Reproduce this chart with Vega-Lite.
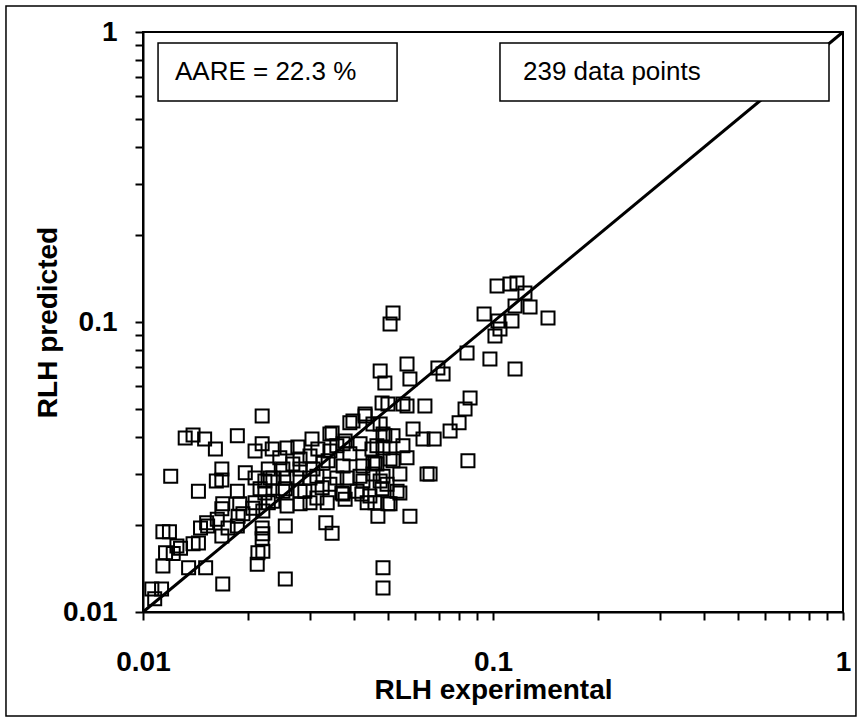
{
  "$schema": "https://vega.github.io/schema/vega-lite/v6.json",
  "width": 700,
  "height": 580,
  "autosize": {"type": "none"},
  "padding": {"left": 143, "top": 32, "right": 19, "bottom": 105},
  "background": "white",
  "config": {
    "view": {"stroke": "black", "strokeWidth": 2},
    "font": "Liberation Sans",
    "axis": {
      "grid": false,
      "domainColor": "black",
      "domainWidth": 2,
      "tickColor": "black",
      "tickWidth": 2,
      "tickSize": 8,
      "labelFont": "Liberation Sans",
      "labelFontWeight": "bold",
      "labelFontSize": 28,
      "labelColor": "black",
      "labelOverlap": false,
      "labelFlush": false,
      "titleFont": "Liberation Sans",
      "titleFontWeight": "bold",
      "titleFontSize": 28,
      "titleColor": "black"
    }
  },
  "layer": [
    {
      "data": {"values": [{"x1": 0.00406, "x2": 1.089, "y1": 1.229, "y2": 0.00438}]},
      "mark": {"type": "rect", "fill": null, "stroke": "black", "strokeWidth": 1.5, "clip": false},
      "encoding": {
        "x": {"field": "x1", "type": "quantitative", "scale": {"type": "log", "domain": [0.01, 1], "nice": false}},
        "x2": {"field": "x2"},
        "y": {"field": "y1", "type": "quantitative", "scale": {"type": "log", "domain": [0.01, 1], "nice": false}},
        "y2": {"field": "y2"}
      }
    },
    {
      "data": {"values": [
        {"exp":0.1027,"pred":0.1331},{"exp":0.1118,"pred":0.1352},{"exp":0.1171,"pred":0.1363},{"exp":0.1234,"pred":0.1259},
        {"exp":0.1156,"pred":0.1136},{"exp":0.1276,"pred":0.1127},{"exp":0.0943,"pred":0.1066},{"exp":0.1436,"pred":0.1032},
        {"exp":0.1033,"pred":0.1008},{"exp":0.1133,"pred":0.1008},{"exp":0.1047,"pred":0.0946},{"exp":0.1013,"pred":0.0895},
        {"exp":0.0843,"pred":0.0782},{"exp":0.0980,"pred":0.0746},{"exp":0.0696,"pred":0.0694},{"exp":0.1156,"pred":0.0689},
        {"exp":0.0720,"pred":0.0662},{"exp":0.0518,"pred":0.1074},{"exp":0.0508,"pred":0.0984},{"exp":0.0476,"pred":0.0678},
        {"exp":0.0568,"pred":0.0717},{"exp":0.0491,"pred":0.0616},{"exp":0.0579,"pred":0.0636},{"exp":0.0860,"pred":0.0547},
        {"exp":0.0832,"pred":0.0501},{"exp":0.0800,"pred":0.0449},{"exp":0.0754,"pred":0.0421},{"exp":0.0679,"pred":0.0395},
        {"exp":0.0639,"pred":0.0513},{"exp":0.0591,"pred":0.0428},{"exp":0.0568,"pred":0.0513},{"exp":0.0501,"pred":0.0521},
        {"exp":0.0518,"pred":0.0405},{"exp":0.0485,"pred":0.0368},{"exp":0.0568,"pred":0.0340},{"exp":0.0508,"pred":0.0337},
        {"exp":0.0542,"pred":0.0299},{"exp":0.0661,"pred":0.0299},{"exp":0.0848,"pred":0.0332},{"exp":0.0542,"pred":0.0257},
        {"exp":0.0501,"pred":0.0236},{"exp":0.0454,"pred":0.0445},{"exp":0.0466,"pred":0.0324},{"exp":0.0476,"pred":0.0283},
        {"exp":0.0398,"pred":0.0456},{"exp":0.0431,"pred":0.0474},{"exp":0.0342,"pred":0.0411},{"exp":0.0304,"pred":0.0395},
        {"exp":0.0373,"pred":0.0380},{"exp":0.0491,"pred":0.0405},{"exp":0.0219,"pred":0.0474},{"exp":0.0132,"pred":0.0398},
        {"exp":0.0139,"pred":0.0408},{"exp":0.0150,"pred":0.0395},{"exp":0.0161,"pred":0.0365},{"exp":0.0186,"pred":0.0405},
        {"exp":0.0209,"pred":0.0359},{"exp":0.0219,"pred":0.0380},{"exp":0.0120,"pred":0.0294},{"exp":0.0144,"pred":0.0261},
        {"exp":0.0168,"pred":0.0311},{"exp":0.0168,"pred":0.0285},{"exp":0.0162,"pred":0.0283},{"exp":0.0186,"pred":0.0261},
        {"exp":0.0169,"pred":0.0236},{"exp":0.0196,"pred":0.0302},{"exp":0.0209,"pred":0.0290},{"exp":0.0246,"pred":0.0340},
        {"exp":0.0281,"pred":0.0337},{"exp":0.0277,"pred":0.0371},{"exp":0.0390,"pred":0.0449},{"exp":0.0482,"pred":0.0526},
        {"exp":0.0631,"pred":0.0395},{"exp":0.0390,"pred":0.0351},{"exp":0.0425,"pred":0.0319},{"exp":0.0454,"pred":0.0326},
        {"exp":0.0518,"pred":0.0332},{"exp":0.0498,"pred":0.0276},{"exp":0.0532,"pred":0.0261},{"exp":0.0469,"pred":0.0214},
        {"exp":0.0579,"pred":0.0214},{"exp":0.0648,"pred":0.0299},{"exp":0.0333,"pred":0.0203},{"exp":0.0347,"pred":0.0187},
        {"exp":0.0255,"pred":0.0198},{"exp":0.0220,"pred":0.0223},{"exp":0.0216,"pred":0.0266},{"exp":0.0235,"pred":0.0290},
        {"exp":0.0258,"pred":0.0290},{"exp":0.0275,"pred":0.0290},{"exp":0.0314,"pred":0.0294},{"exp":0.0358,"pred":0.0290},
        {"exp":0.0251,"pred":0.0261},{"exp":0.0281,"pred":0.0261},{"exp":0.0300,"pred":0.0238},{"exp":0.0258,"pred":0.0232},
        {"exp":0.0235,"pred":0.0241},{"exp":0.0206,"pred":0.0228},{"exp":0.0219,"pred":0.0195},{"exp":0.0219,"pred":0.0179},
        {"exp":0.0213,"pred":0.0160},{"exp":0.0212,"pred":0.0146},{"exp":0.0255,"pred":0.0130},{"exp":0.0169,"pred":0.0125},
        {"exp":0.0485,"pred":0.0142},{"exp":0.0485,"pred":0.0121},{"exp":0.0114,"pred":0.0189},{"exp":0.0119,"pred":0.0189},
        {"exp":0.0125,"pred":0.0169},{"exp":0.0116,"pred":0.0160},{"exp":0.0114,"pred":0.0144},{"exp":0.0135,"pred":0.0142},
        {"exp":0.0151,"pred":0.0142},{"exp":0.0144,"pred":0.0173},{"exp":0.0146,"pred":0.0195},{"exp":0.0152,"pred":0.0203},
        {"exp":0.0168,"pred":0.0183},{"exp":0.0168,"pred":0.0227},{"exp":0.0187,"pred":0.0214},{"exp":0.0189,"pred":0.0236},
        {"exp":0.0106,"pred":0.0120},{"exp":0.0113,"pred":0.0120},{"exp":0.0108,"pred":0.0111},{"exp":0.0175,"pred":0.0195},
        {"exp":0.0128,"pred":0.0166},{"exp":0.0139,"pred":0.0172},{"exp":0.0153,"pred":0.0198},{"exp":0.0163,"pred":0.0209},
        {"exp":0.0186,"pred":0.0198},{"exp":0.0193,"pred":0.0218},{"exp":0.0122,"pred":0.0159},{"exp":0.0373,"pred":0.0255},
        {"exp":0.0409,"pred":0.0261},{"exp":0.0314,"pred":0.0247},{"exp":0.0342,"pred":0.0276},{"exp":0.0383,"pred":0.0290},
        {"exp":0.0425,"pred":0.0283},{"exp":0.0327,"pred":0.0326},{"exp":0.0342,"pred":0.0359},{"exp":0.0300,"pred":0.0345},
        {"exp":0.0234,"pred":0.0365},{"exp":0.0258,"pred":0.0368},{"exp":0.0306,"pred":0.0311},{"exp":0.0281,"pred":0.0311},
        {"exp":0.0251,"pred":0.0311},{"exp":0.0228,"pred":0.0311},{"exp":0.0445,"pred":0.0251},{"exp":0.0485,"pred":0.0294},
        {"exp":0.0373,"pred":0.0319},{"exp":0.0417,"pred":0.0380},{"exp":0.0466,"pred":0.0374},{"exp":0.0553,"pred":0.0374},
        {"exp":0.0485,"pred":0.0411},{"exp":0.0431,"pred":0.0482},{"exp":0.0347,"pred":0.0414},{"exp":0.0316,"pred":0.0365},
        {"exp":0.0358,"pred":0.0374},{"exp":0.0378,"pred":0.0389},{"exp":0.0451,"pred":0.0365},{"exp":0.0460,"pred":0.0326},
        {"exp":0.0338,"pred":0.0332},{"exp":0.0268,"pred":0.0324},{"exp":0.0231,"pred":0.0290},{"exp":0.0300,"pred":0.0290},
        {"exp":0.0417,"pred":0.0294},{"exp":0.0454,"pred":0.0299},{"exp":0.0223,"pred":0.0257},{"exp":0.0255,"pred":0.0266},
        {"exp":0.0290,"pred":0.0261},{"exp":0.0325,"pred":0.0268},{"exp":0.0370,"pred":0.0257},{"exp":0.0422,"pred":0.0255},
        {"exp":0.0482,"pred":0.0266},{"exp":0.0228,"pred":0.0238},{"exp":0.0336,"pred":0.0238},{"exp":0.0378,"pred":0.0245},
        {"exp":0.0437,"pred":0.0238},{"exp":0.0460,"pred":0.0238},{"exp":0.0508,"pred":0.0236},{"exp":0.0281,"pred":0.0236},
        {"exp":0.0220,"pred":0.0186},{"exp":0.0220,"pred":0.0162},{"exp":0.0209,"pred":0.0238},{"exp":0.0223,"pred":0.0283},
        {"exp":0.0476,"pred":0.0445},{"exp":0.0553,"pred":0.0521}
      ]},
      "mark": {"type": "square", "filled": false, "stroke": "black", "strokeWidth": 2, "size": 169, "opacity": 1},
      "encoding": {
        "x": {
          "field": "exp", "type": "quantitative",
          "scale": {"type": "log", "domain": [0.01, 1], "nice": false},
          "axis": {
            "title": "RLH experimental",
            "values": [0.01,0.02,0.03,0.04,0.05,0.06,0.07,0.08,0.09,0.1,0.2,0.3,0.4,0.5,0.6,0.7,0.8,0.9,1],
            "labelExpr": "datum.value === 0.01 ? '0.01' : datum.value === 0.1 ? '0.1' : datum.value === 1 ? '1' : ''",
            "labelPadding": 28,
            "titlePadding": 0
          }
        },
        "y": {
          "field": "pred", "type": "quantitative",
          "scale": {"type": "log", "domain": [0.01, 1], "nice": false},
          "axis": {
            "title": "RLH predicted",
            "values": [0.01,0.02,0.03,0.04,0.05,0.06,0.07,0.08,0.09,0.1,0.2,0.3,0.4,0.5,0.6,0.7,0.8,0.9,1],
            "labelExpr": "datum.value === 0.01 ? '0.01' : datum.value === 0.1 ? '0.1' : datum.value === 1 ? '1' : ''",
            "labelPadding": 18,
            "titlePadding": 0
          }
        }
      }
    },
    {
      "data": {"values": [{"exp": 0.01, "pred": 0.01}, {"exp": 1, "pred": 1}]},
      "mark": {"type": "line", "color": "black", "strokeWidth": 3},
      "encoding": {
        "x": {"field": "exp", "type": "quantitative"},
        "y": {"field": "pred", "type": "quantitative"}
      }
    },
    {
      "data": {"values": [
        {"x1": 0.01104, "x2": 0.0532, "y1": 0.916, "y2": 0.578},
        {"x1": 0.1047, "x2": 0.912, "y1": 0.916, "y2": 0.578}
      ]},
      "mark": {"type": "rect", "fill": "white", "stroke": "black", "strokeWidth": 1.5},
      "encoding": {
        "x": {"field": "x1", "type": "quantitative"},
        "x2": {"field": "x2"},
        "y": {"field": "y1", "type": "quantitative"},
        "y2": {"field": "y2"}
      }
    },
    {
      "data": {"values": [
        {"label": "AARE = 22.3 %", "x": 0.01234, "y": 0.73},
        {"label": "239 data points", "x": 0.1218, "y": 0.73}
      ]},
      "mark": {"type": "text", "align": "left", "baseline": "middle", "font": "Liberation Sans", "fontSize": 26, "color": "black"},
      "encoding": {
        "x": {"field": "x", "type": "quantitative"},
        "y": {"field": "y", "type": "quantitative"},
        "text": {"field": "label"}
      }
    }
  ]
}
